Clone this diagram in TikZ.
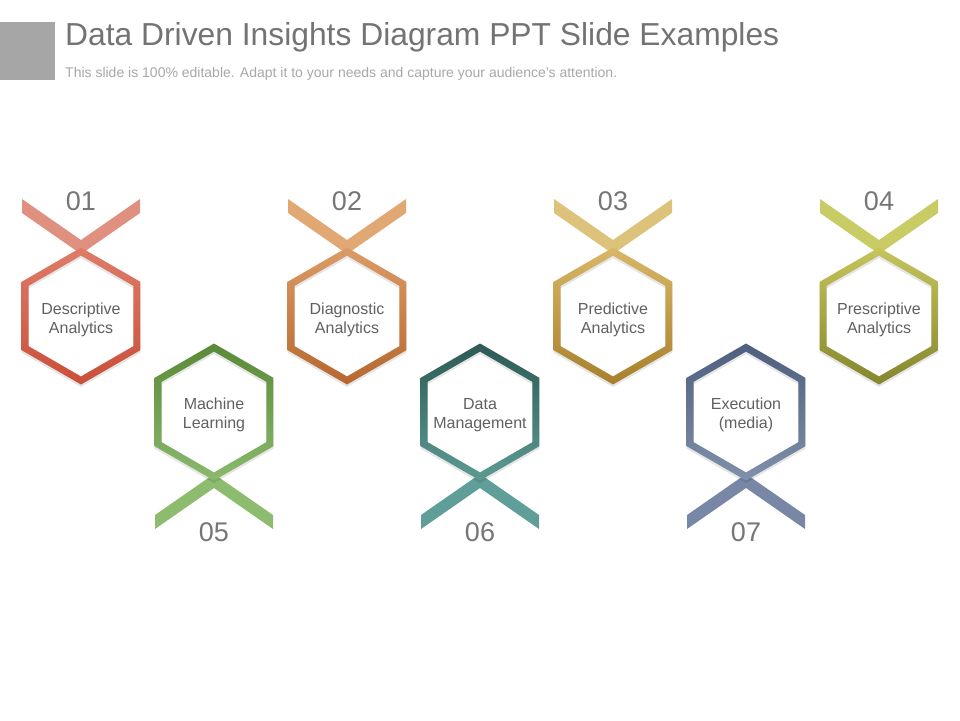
\documentclass[tikz,border=0pt]{standalone}
\usepackage{fontspec}
\setmainfont{Liberation Sans}
\definecolor{sqgray}{HTML}{A6A6A6}
\definecolor{titlegray}{HTML}{737373}
\definecolor{subgray}{HTML}{A8A8A8}
\definecolor{txtgray}{HTML}{606060}
\definecolor{numgray}{HTML}{767676}
% hexagon colours: top, bottom, arms
\definecolor{aT}{HTML}{DE7C69}\definecolor{aB}{HTML}{CA4F39}\definecolor{aA}{HTML}{E0907E}
\definecolor{bT}{HTML}{DC9B66}\definecolor{bB}{HTML}{B6682F}\definecolor{bA}{HTML}{E2A874}
\definecolor{cT}{HTML}{D9B767}\definecolor{cB}{HTML}{A8802D}\definecolor{cA}{HTML}{DDC27B}
\definecolor{dT}{HTML}{C6C45C}\definecolor{dB}{HTML}{85872D}\definecolor{dA}{HTML}{C9CB65}
\definecolor{eT}{HTML}{5A8A38}\definecolor{eB}{HTML}{8BB96D}\definecolor{eA}{HTML}{8DBC6F}
\definecolor{fT}{HTML}{2D5A54}\definecolor{fB}{HTML}{5D9A94}\definecolor{fA}{HTML}{5F9E99}
\definecolor{gT}{HTML}{4E5F7E}\definecolor{gB}{HTML}{8090AA}\definecolor{gA}{HTML}{7787A5}
\newcommand\hexpath{%
    (0,-68.5) -- (59.3,-34.25) -- (59.3,34.25) -- (0,68.5) -- (-59.3,34.25) -- (-59.3,-34.25) -- cycle
    (0,-60.4) -- (52.3,-30.2) -- (52.3,30.2) -- (0,60.4) -- (-52.3,30.2) -- (-52.3,-30.2) -- cycle}
\newcommand\hexring[2]{%
  \begin{scope}[shift={(0,2.5)}]
    \fill[black, opacity=0.10, even odd rule] \hexpath;
  \end{scope}
  \shade[even odd rule, top color=#1, bottom color=#2] \hexpath;}
\newcommand\toparms[1]{%
  \fill[#1] (-59,-117) -- (-59,-103) -- (5,-58.5) -- (5,-72.5) -- cycle;
  \fill[#1] (59,-117) -- (59,-103) -- (-5,-58.5) -- (-5,-72.5) -- cycle;}
\newcommand\botarms[1]{%
  \fill[#1] (-59,117) -- (-59,103) -- (5,58.5) -- (5,72.5) -- cycle;
  \fill[#1] (59,117) -- (59,103) -- (-5,58.5) -- (-5,72.5) -- cycle;}
\begin{document}
\begin{tikzpicture}[x=1pt,y=-1pt,
  hextext/.style={text=txtgray, font=\fontsize{16}{19}\selectfont, align=center, inner sep=0pt},
  numtext/.style={text=numgray, font=\fontsize{27}{30}\selectfont, inner sep=0pt}]
\useasboundingbox (0,0) rectangle (960,720);
\fill[white] (0,0) rectangle (960,720);
\fill[sqgray] (0,22) rectangle (55,80);
\node[anchor=west, text=titlegray, font=\fontsize{31.8}{34}\selectfont, inner sep=0pt] (title) at (65,37) {Data Driven Insights Diagram PPT Slide Examples};
\node[anchor=west, text=subgray, font=\fontsize{14}{16}\selectfont, inner sep=0pt] (subtitle) at (65,74) {This slide is 100\% editable. Adapt it to your needs and capture your audience's attention.};
% top row
\begin{scope}[shift={(81,316)}]
  \toparms{aA}\hexring{aT}{aB}
  \node[hextext] (h1) at (0,4) {Descriptive\\Analytics};
  \node[numtext] (n1) at (0,-115) {01};
\end{scope}
\begin{scope}[shift={(347,316)}]
  \toparms{bA}\hexring{bT}{bB}
  \node[hextext] (h2) at (0,4) {Diagnostic\\Analytics};
  \node[numtext] (n2) at (0,-115) {02};
\end{scope}
\begin{scope}[shift={(613,316)}]
  \toparms{cA}\hexring{cT}{cB}
  \node[hextext] (h3) at (0,4) {Predictive\\Analytics};
  \node[numtext] (n3) at (0,-115) {03};
\end{scope}
\begin{scope}[shift={(879,316)}]
  \toparms{dA}\hexring{dT}{dB}
  \node[hextext] (h4) at (0,4) {Prescriptive\\Analytics};
  \node[numtext] (n4) at (0,-115) {04};
\end{scope}
% bottom row
\begin{scope}[shift={(214,412)}]
  \botarms{eA}\hexring{eT}{eB}
  \node[hextext] (h5) at (0,3) {Machine\\Learning};
  \node[numtext] (n5) at (0,120) {05};
\end{scope}
\begin{scope}[shift={(480,412)}]
  \botarms{fA}\hexring{fT}{fB}
  \node[hextext] (h6) at (0,3) {Data\\Management};
  \node[numtext] (n6) at (0,120) {06};
\end{scope}
\begin{scope}[shift={(746,412)}]
  \botarms{gA}\hexring{gT}{gB}
  \node[hextext] (h7) at (0,3) {Execution\\(media)};
  \node[numtext] (n7) at (0,120) {07};
\end{scope}
\end{tikzpicture}
\end{document}
